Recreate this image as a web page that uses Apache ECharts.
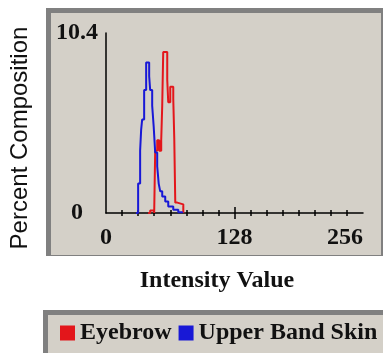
<!DOCTYPE html>
<html>
<head>
<meta charset="utf-8">
<script src="https://cdn.jsdelivr.net/npm/echarts@6/dist/echarts.min.js"></script>
<style>
  html, body { margin: 0; padding: 0; background: #fff; }
  #chart { width: 383px; height: 353px; }
</style>
</head>
<body>
<div id="chart"></div>
<script>
// histogram outlines, value held from x[i] to x[i+1]
const eyebrowX = [42, 44, 48, 49, 51, 53, 55, 56, 57, 61, 62, 64, 67, 68, 69, 71, 77];
const eyebrowY = [0, 0.15, 0, 3.6, 4.2, 3.6, 4.2, 6.2, 9.3, 7.7, 6.4, 7.3, 6.6, 4.3, 0.6, 0.5, 0];
const skinX = [30, 32, 34, 35, 36, 38, 40, 43, 44, 46, 47.5, 49, 51, 52.5, 54, 56, 59, 62, 67, 72, 76];
const skinY = [0, 1.7, 3.6, 4.8, 5.4, 7.1, 8.7, 7.9, 7.1, 6.2, 5.0, 3.5, 2.7, 1.7, 1.25, 0.96, 0.67, 0.38, 0.19, 0.05, 0];

const xLabels = [0, 128, 256];
const minorTicks = [16, 32, 48, 64, 80, 96, 112, 144, 160, 176, 192, 208, 224, 240];
const majorTicks = [128];
const yMax = 10.4;

const serif = '"Liberation Serif", "Times New Roman", serif';
const panelGray = '#d4d0c8';
const borderGray = '#808080';

const pairs = (xs, ys) => xs.map((x, i) => [x, ys[i]]);

const tickAxis = (values, inside, len, main) => ({
  type: 'value',
  min: 0,
  max: 256,
  interval: 16,
  position: 'bottom',
  axisLine: { show: !!main, onZero: false, lineStyle: { color: '#000', width: 1.5 } },
  axisTick: { show: true, inside: inside, length: len, customValues: values,
    lineStyle: { color: '#000', width: 1.5 } },
  axisLabel: main ? {
    customValues: xLabels,
    color: '#111',
    fontFamily: serif,
    fontWeight: 'bold',
    fontSize: 24,
    margin: 13,
    alignMinLabel: 'center',
    alignMaxLabel: 'right'
  } : { show: false },
  splitLine: { show: false }
});

const chart = echarts.init(document.getElementById('chart'));
chart.setOption({
  backgroundColor: '#fff',
  animation: false,
  graphic: [
    { type: 'rect', z: -20, silent: true, shape: { x: 46, y: 8, width: 340, height: 248 }, style: { fill: borderGray } },
    { type: 'rect', z: -19, silent: true, shape: { x: 51, y: 13, width: 330, height: 242 }, style: { fill: panelGray } },
    { type: 'rect', z: -20, silent: true, shape: { x: 43, y: 310, width: 345, height: 50 }, style: { fill: borderGray } },
    { type: 'rect', z: -19, silent: true, shape: { x: 48, y: 315, width: 340, height: 45 }, style: { fill: panelGray } },
    { type: 'text', z: 10, silent: true, x: 20, y: 138, rotation: Math.PI / 2,
      style: { text: 'Percent Composition', fill: '#111', font: '24px "Liberation Sans", Arial, sans-serif',
        textAlign: 'center', textVerticalAlign: 'middle' } },
    { type: 'text', z: 10, silent: true, x: 217, y: 281,
      style: { text: 'Intensity Value', fill: '#111', font: 'bold 24px ' + serif,
        textAlign: 'center', textVerticalAlign: 'middle' } }
  ],
  legend: {
    data: ['Eyebrow', 'Upper Band Skin'],
    left: 60,
    top: 321,
    padding: 0,
    icon: 'rect',
    itemWidth: 15,
    itemHeight: 15,
    itemGap: 7,
    textStyle: { color: '#111', fontFamily: serif, fontWeight: 'bold', fontSize: 24 }
  },
  grid: { left: 106, right: 20, top: 33, bottom: 140, containLabel: false },
  xAxis: [
    tickAxis(minorTicks, false, 3, true),
    tickAxis(minorTicks, true, 3, false),
    tickAxis(majorTicks, false, 6, false),
    tickAxis(majorTicks, true, 6, false)
  ],
  yAxis: {
    type: 'value',
    min: 0,
    max: yMax,
    interval: yMax,
    axisLine: { show: true, lineStyle: { color: '#000', width: 1.5 } },
    axisTick: { show: false },
    splitLine: { show: false },
    axisLabel: {
      color: '#111',
      fontFamily: serif,
      fontWeight: 'bold',
      fontSize: 24,
      align: 'center',
      margin: 29
    }
  },
  series: [
    {
      name: 'Eyebrow',
      type: 'line',
      step: 'end',
      symbol: 'none',
      color: '#e3161b',
      lineStyle: { width: 2, color: '#e3161b' },
      data: pairs(eyebrowX, eyebrowY)
    },
    {
      name: 'Upper Band Skin',
      type: 'line',
      step: 'end',
      symbol: 'none',
      color: '#1818d6',
      lineStyle: { width: 2, color: '#1818d6' },
      data: pairs(skinX, skinY)
    }
  ]
});
</script>
</body>
</html>
